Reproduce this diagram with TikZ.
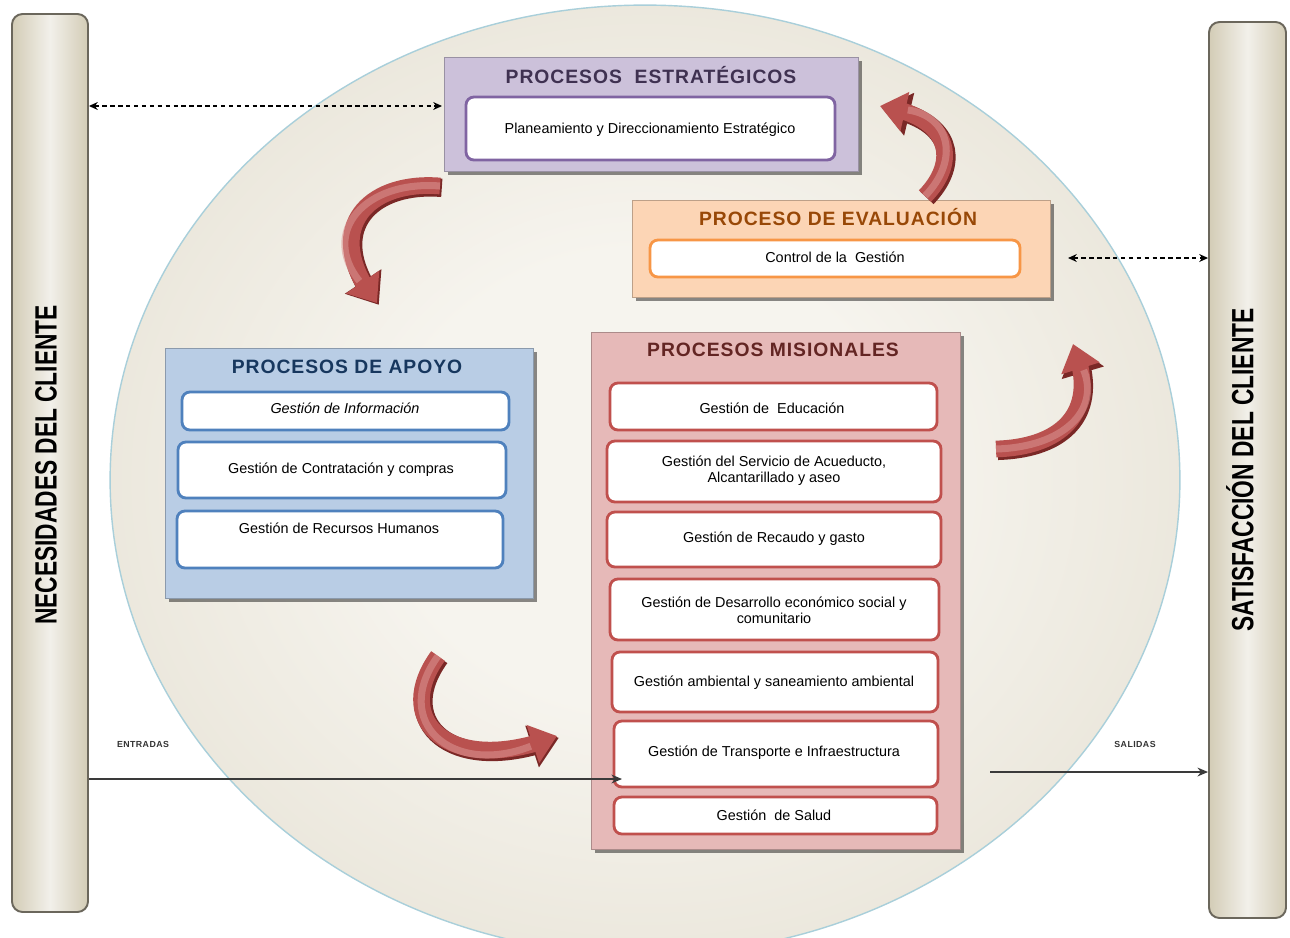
\documentclass[tikz,border=0pt]{standalone}
\usepackage{fontspec}
\usepackage{graphicx}
\setmainfont{Liberation Sans}
\newfontfamily\ttlfont[LetterSpace=5]{Liberation Sans}
\usetikzlibrary{arrows.meta,bending,fit,shadows}

\definecolor{ellIn}{HTML}{F6F4EE}
\definecolor{ellOut}{HTML}{D8D1BD}
\definecolor{ellLine}{HTML}{A9CFDA}
\definecolor{barSide}{HTML}{D3CCB6}
\definecolor{barMid}{HTML}{F2F0EA}
\definecolor{barLine}{HTML}{6B675C}
\definecolor{estrFill}{HTML}{CCC1DA}
\definecolor{estrLine}{HTML}{8064A2}
\definecolor{estrText}{HTML}{3F3151}
\definecolor{evalFill}{HTML}{FCD5B5}
\definecolor{evalLine}{HTML}{F79646}
\definecolor{evalText}{HTML}{984807}
\definecolor{apoFill}{HTML}{B9CDE5}
\definecolor{apoLine}{HTML}{4F81BD}
\definecolor{apoText}{HTML}{17375E}
\definecolor{misFill}{HTML}{E6B9B8}
\definecolor{misLine}{HTML}{C0504D}
\definecolor{misText}{HTML}{632523}
\definecolor{ribDark}{HTML}{7A2826}
\definecolor{ribMain}{HTML}{B9514F}
\definecolor{ribLight}{HTML}{DB9593}
\definecolor{wire}{HTML}{3A3A3A}

% soft glow inside the big ellipse
\pgfdeclareradialshading{ellglow}{\pgfpoint{0bp}{0bp}}{color(0bp)=(ellIn); color(12bp)=(ellIn); color(50bp)=(ellOut); color(60bp)=(ellOut)}

\newcommand{\boxtextfont}{\fontsize{8.2}{9.2}\selectfont}
% curved ribbon arrow: dark under-layer, body, highlight
\newcommand{\ribbon}[1]{%
  \draw[rshadow, shift={(1.8,1.8)}] #1;
  \draw[rmain] #1;
  \draw[rlight] #1;}

\begin{document}
\begin{tikzpicture}[x=0.02cm, y=-0.02cm,
  sidebar/.style={draw=barLine, line width=1.1pt, rounded corners=6pt,
    left color=barSide, right color=barSide, middle color=barMid, inner sep=0pt},
  bartxt/.style={rotate=90, font=\bfseries\fontsize{17.5}{20}\selectfont, inner sep=0pt},
  procbox/.style={fill=#1, draw=#1!75!black, line width=0.5pt, inner sep=0pt,
    drop shadow={shadow xshift=2.2pt, shadow yshift=-2.2pt, fill=black, opacity=0.45}},
  inbox/.style={draw=#1, line width=1.6pt, fill=white, rounded corners=4.5pt, inner sep=0pt},
  boxtxt/.style={font=\boxtextfont, align=center, inner sep=0pt},
  ttl/.style={font=\ttlfont\bfseries\fontsize{11}{13}\selectfont, text=#1, inner sep=0pt},
  lbl/.style={font=\ttlfont\bfseries\fontsize{5}{6}\selectfont, text=black!80, inner sep=0pt},
  rshadow/.style={draw=ribDark, line width=10.5pt, -{Triangle[length=16pt,width=24pt]}},
  rmain/.style={draw=ribMain, line width=9.5pt, -{Triangle[length=14.5pt,width=22pt]}},
  rlight/.style={draw=ribLight, line width=4pt, shorten >=16pt, opacity=0.55},
  dasharr/.style={draw=black, line width=0.7pt, dash pattern=on 2.5pt off 2pt,
    {Stealth[length=5pt,width=4.5pt]}-{Stealth[length=5pt,width=4.5pt]}},
  solarr/.style={draw=wire, line width=1.1pt, -{Stealth[length=6pt,width=5pt]}}]

\useasboundingbox (0,0) rectangle (1290,937);
\fill[white] (0,0) rectangle (1290,937);

% the big ellipse holding the process map
\begin{scope}
  \clip (0,0) rectangle (1290,937);
  \shadedraw[shading=ellglow, draw=ellLine, line width=0.8pt]
    (645,480) ellipse [x radius=10.7cm, y radius=9.5cm];
\end{scope}

% client bars
\node[sidebar, fit={(12,14)(88,912)}] (nec) {};
\node[bartxt] (necT) at (46,465) {\scalebox{0.74}[1]{NECESIDADES DEL CLIENTE}};
\node[sidebar, fit={(1209,22)(1286,918)}] (sat) {};
\node[bartxt] (satT) at (1240,470) {\scalebox{0.74}[1]{SATISFACCIÓN DEL CLIENTE}};

% strategic processes
\node[procbox=estrFill, fit={(444,57)(858,171)}] (estr) {};
\node[ttl=estrText] (estrT) at (651,75) {PROCESOS\ \ ESTRATÉGICOS};
\node[inbox=estrLine, fit={(466,97)(835,160)}] (estr1) {};
\node[boxtxt] (estr1T) at (650,130) {Planeamiento y Direccionamiento Estratégico};

% evaluation
\node[procbox=evalFill, fit={(632,200)(1050,297)}] (eval) {};
\node[ttl=evalText] (evalT) at (838,217) {PROCESO DE EVALUACIÓN};
\node[inbox=evalLine, fit={(650,240)(1020,277)}] (eval1) {};
\node[boxtxt] (eval1T) at (835,257) {Control de la\ \ Gestión};

% support processes
\node[procbox=apoFill, fit={(165,348)(533,598)}] (apo) {};
\node[ttl=apoText] (apoT) at (347,367) {PROCESOS DE APOYO};
\node[inbox=apoLine, fit={(182,392)(509,430)}] (apo1) {};
\node[boxtxt, font=\boxtextfont\itshape] (apo1T) at (345,408) {Gestión de Información};
\node[inbox=apoLine, fit={(178,442)(506,498)}] (apo2) {};
\node[boxtxt] (apo2T) at (341,470) {Gestión de Contratación y compras};
\node[inbox=apoLine, fit={(177,511)(503,568)}] (apo3) {};
\node[boxtxt] (apo3T) at (339,528) {Gestión de Recursos Humanos};

% mission processes
\node[procbox=misFill, fit={(591,332)(960,849)}] (mis) {};
\node[ttl=misText] (misT) at (773,350) {PROCESOS MISIONALES};
\node[inbox=misLine, fit={(610,383)(937,430)}] (mis1) {};
\node[boxtxt] (mis1T) at (772,408) {Gestión de\ \ Educación};
\node[inbox=misLine, fit={(607,441)(941,502)}] (mis2) {};
\node[boxtxt] (mis2T) at (774,471) {Gestión del Servicio de Acueducto,\\Alcantarillado y aseo};
\node[inbox=misLine, fit={(607,512)(941,567)}] (mis3) {};
\node[boxtxt] (mis3T) at (774,539) {Gestión de Recaudo y gasto};
\node[inbox=misLine, fit={(610,579)(939,640)}] (mis4) {};
\node[boxtxt] (mis4T) at (774,610) {Gestión de Desarrollo económico social y\\comunitario};
\node[inbox=misLine, fit={(612,652)(938,712)}] (mis5) {};
\node[boxtxt] (mis5T) at (774,683) {Gestión ambiental y saneamiento ambiental};
\node[inbox=misLine, fit={(614,721)(938,787)}] (mis6) {};
\node[boxtxt] (mis6T) at (774,753) {Gestión de Transporte e Infraestructura};
\node[inbox=misLine, fit={(614,797)(937,834)}] (mis7) {};
\node[boxtxt] (mis7T) at (774,815) {Gestión\ \ de Salud};

% cycle arrows
\ribbon{(440,186) .. controls (365,180) and (320,232) .. (377,303)}
\ribbon{(925,196) .. controls (960,160) and (950,116) .. (880,106)}
\ribbon{(996,449) .. controls (1064,447) and (1100,410) .. (1073,344)}
\ribbon{(438,656) .. controls (390,722) and (452,777) .. (557,736)}

% inputs and outputs
\coordinate (dA) at (442,106);
\draw[dasharr] (nec.east |- dA) -- (dA);
\coordinate (dB) at (1068,258);
\draw[dasharr] (dB) -- (sat.west |- dB);
\coordinate (ent) at (622,779);
\draw[solarr] (nec.east |- ent) -- (ent);
\coordinate (sal) at (990,772);
\draw[solarr] (sal) -- (sat.west |- sal);
\node[lbl] (entT) at (143,744) {ENTRADAS};
\node[lbl] (salT) at (1135,744) {SALIDAS};
\end{tikzpicture}
\end{document}
